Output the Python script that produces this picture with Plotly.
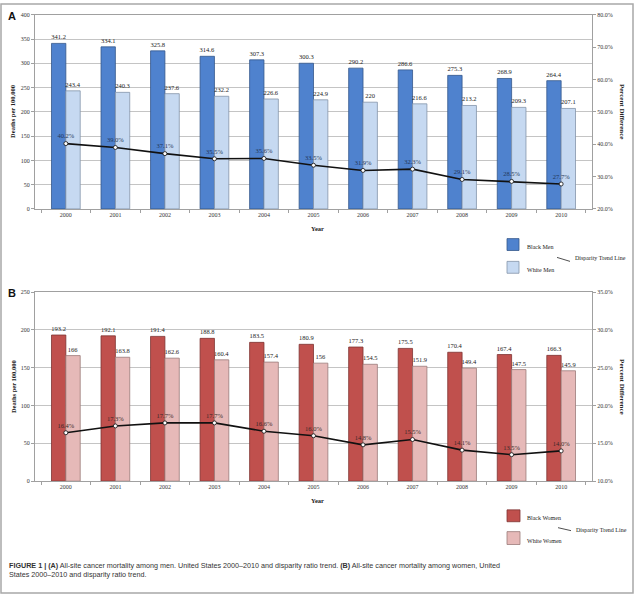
import plotly.graph_objects as go

W, H = 636, 597

years = ["2000", "2001", "2002", "2003", "2004", "2005", "2006", "2007", "2008", "2009", "2010"]

black_men = [341.2, 334.1, 325.8, 314.6, 307.3, 300.3, 290.2, 286.6, 275.3, 268.9, 264.4]
white_men = [243.4, 240.3, 237.6, 232.2, 226.6, 224.9, 220, 216.6, 213.2, 209.3, 207.1]
men_pct = [40.2, 39.0, 37.1, 35.5, 35.6, 33.5, 31.9, 32.3, 29.1, 28.5, 27.7]

black_women = [193.2, 192.1, 191.4, 188.8, 183.5, 180.9, 177.3, 175.5, 170.4, 167.4, 166.3]
white_women = [166, 163.8, 162.6, 160.4, 157.4, 156, 154.5, 151.9, 149.4, 147.5, 145.9]
women_pct = [16.4, 17.3, 17.7, 17.7, 16.6, 16.0, 14.8, 15.5, 14.1, 13.5, 14.0]

SERIF = "Liberation Serif"
SANS = "Liberation Sans"

def px_x(p):
    return p / W

def px_y(p):
    return 1 - p / H

def lbl(vals):
    return [f"{v:g}" for v in vals]

fig = go.Figure()

bar_font = dict(family=SERIF, size=6.5, color="#222222")

# Panel A
fig.add_trace(go.Bar(x=years, y=black_men, name="Black Men", marker=dict(color="#4F82CE", line=dict(color="#35588C", width=0.8)),
                     text=lbl(black_men), textposition="outside", textfont=bar_font, outsidetextfont=bar_font,
                     cliponaxis=False, constraintext="none", xaxis="x", yaxis="y", offsetgroup="a1", hoverinfo="skip"))
fig.add_trace(go.Bar(x=years, y=white_men, name="White Men", marker=dict(color="#C6D9F1", line=dict(color="#8494AA", width=0.8)),
                     text=lbl(white_men), textposition="outside", textfont=bar_font, outsidetextfont=bar_font,
                     cliponaxis=False, constraintext="none", xaxis="x", yaxis="y", offsetgroup="a2", hoverinfo="skip"))
fig.add_trace(go.Scatter(x=years, y=men_pct, mode="lines+markers+text", name="Disparity Trend Line",
                         line=dict(color="#111", width=1.6),
                         marker=dict(color="white", size=4, line=dict(color="#111", width=0.8)),
                         text=[f"{v:.1f}%" for v in men_pct], textposition="top center",
                         textfont=dict(family=SERIF, size=6.5, color="#23375A"), cliponaxis=False,
                         xaxis="x", yaxis="y2", hoverinfo="skip"))

# Panel B
fig.add_trace(go.Bar(x=years, y=black_women, name="Black Women", marker=dict(color="#C0504D", line=dict(color="#7E3432", width=0.8)),
                     text=lbl(black_women), textposition="outside", textfont=bar_font, outsidetextfont=bar_font,
                     cliponaxis=False, constraintext="none", xaxis="x3", yaxis="y3", offsetgroup="b1", hoverinfo="skip"))
fig.add_trace(go.Bar(x=years, y=white_women, name="White Women", marker=dict(color="#E6B9B8", line=dict(color="#9A7B7A", width=0.8)),
                     text=lbl(white_women), textposition="outside", textfont=bar_font, outsidetextfont=bar_font,
                     cliponaxis=False, constraintext="none", xaxis="x3", yaxis="y3", offsetgroup="b2", hoverinfo="skip"))
fig.add_trace(go.Scatter(x=years, y=women_pct, mode="lines+markers+text", name="Disparity Trend Line",
                         line=dict(color="#111", width=1.6),
                         marker=dict(color="white", size=4, line=dict(color="#111", width=0.8)),
                         text=[f"{v:.1f}%" for v in women_pct], textposition="top center",
                         textfont=dict(family=SERIF, size=6.5, color="#3A2A2A"), cliponaxis=False,
                         xaxis="x3", yaxis="y4", hoverinfo="skip"))

tickfont = dict(family=SERIF, size=6, color="#333")
xdom = [px_x(35), px_x(592)]
domA = [px_y(208), px_y(12)]
domB = [px_y(483), px_y(292)]

common_x = dict(type="category", showline=True, linecolor="#A0A0A0", linewidth=1, mirror=True,
                ticks="outside", tickson="boundaries", ticklen=3, tickcolor="#A0A0A0",
                tickfont=tickfont, showgrid=False, fixedrange=True)
common_yl = dict(showline=True, linecolor="#A0A0A0", linewidth=1, ticks="outside", ticklen=3,
                 tickcolor="#A0A0A0", tickfont=tickfont, showgrid=True, gridcolor="#C4C4C4",
                 gridwidth=1, zeroline=False, fixedrange=True)
common_yr = dict(showline=True, linecolor="#A0A0A0", linewidth=1, ticks="outside", ticklen=3,
                 tickcolor="#A0A0A0", tickfont=tickfont, showgrid=False, zeroline=False,
                 side="right", tickformat=".1f", ticksuffix="%", fixedrange=True)

fig.update_layout(
    width=W, height=H,
    margin=dict(l=0, r=0, t=0, b=0),
    paper_bgcolor="white", plot_bgcolor="white",
    showlegend=False,
    barmode="group", bargap=0.42, bargroupgap=0,
    xaxis=dict(domain=xdom, anchor="y", **common_x),
    yaxis=dict(domain=domA, anchor="x", range=[0, 400], dtick=50, **common_yl),
    yaxis2=dict(overlaying="y", anchor="x", range=[20, 80], dtick=10, **common_yr),
    xaxis3=dict(domain=xdom, anchor="y3", **common_x),
    yaxis3=dict(domain=domB, anchor="x3", range=[0, 250], dtick=50, **common_yl),
    yaxis4=dict(overlaying="y3", anchor="x3", range=[10, 35], dtick=5, **common_yr),
)

ann = []
def text(x, y, s, size=7, family=SERIF, bold=False, angle=0, xanchor="center", yanchor="middle", color="#222"):
    if bold:
        s = f"<b>{s}</b>"
    ann.append(dict(x=px_x(x), y=px_y(y), xref="paper", yref="paper", text=s, showarrow=False,
                    font=dict(family=family, size=size, color=color), textangle=angle,
                    xanchor=xanchor, yanchor=yanchor))

# Panel letters
text(12, 13, "A", size=11, family=SANS, bold=True, color="#111")
text(12, 293, "B", size=11, family=SANS, bold=True, color="#111")

# Axis titles
text(13, 110, "Deaths per 100,000", size=6.5, bold=True, angle=-90)
text(622, 110, "Percent Difference", size=7, bold=True, angle=90)
text(317, 228, "Year", size=6.5, bold=True)
text(13, 388, "Deaths per 100,000", size=6.5, bold=True, angle=-90)
text(622, 388, "Percent Difference", size=7, bold=True, angle=90)
text(317, 503, "Year", size=6.5, bold=True)

shapes = []
def box(x0, y0, x1, y1, fill, line):
    shapes.append(dict(type="rect", xref="paper", yref="paper", x0=px_x(x0), x1=px_x(x1),
                       y0=px_y(y1), y1=px_y(y0), fillcolor=fill, line=dict(color=line, width=0.8)))

def seg(x0, y0, x1, y1, color="#222", width=0.8):
    shapes.append(dict(type="line", xref="paper", yref="paper", x0=px_x(x0), x1=px_x(x1),
                       y0=px_y(y0), y1=px_y(y1), line=dict(color=color, width=width)))

# Legend A
box(507, 238, 519, 250, "#4F82CE", "#35588C")
box(507, 261, 519, 273, "#C6D9F1", "#8494AA")
text(525, 246, "Black Men", size=6, xanchor="left")
text(525, 270, "White Men", size=6, xanchor="left")
seg(557, 257, 570, 261)
text(573, 258, "Disparity Trend Line", size=6, xanchor="left")

# Legend B
box(507, 512, 520, 524, "#C0504D", "#7E3432")
box(507, 534, 520, 547, "#E6B9B8", "#9A7B7A")
text(525, 520, "Black Women", size=6, xanchor="left")
text(525, 543, "White Women", size=6, xanchor="left")
seg(558, 530, 571, 533)
text(574, 532, "Disparity Trend Line", size=6, xanchor="left")

# Caption
cap = ("<b>FIGURE 1 | (A)</b> All-site cancer mortality among men. United States 2000\u20132010 and disparity ratio trend. "
       "<b>(B)</b> All-site cancer mortality among women, United<br>States 2000\u20132010 and disparity ratio trend.")
ann.append(dict(x=px_x(7), y=px_y(562), xref="paper", yref="paper", text=cap, showarrow=False,
                align="left", xanchor="left", yanchor="top",
                font=dict(family=SANS, size=7.2, color="#333")))

# Outer frame
shapes.append(dict(type="rect", xref="paper", yref="paper", x0=px_x(1), x1=px_x(633), y0=px_y(596), y1=px_y(1),
                   line=dict(color="#A8A8A8", width=1.5), fillcolor="rgba(0,0,0,0)"))

fig.update_layout(annotations=ann, shapes=shapes)

fig.write_html("out.html", config={"displayModeBar": False, "staticPlot": True},
               post_script="document.body.style.margin='0px';document.body.style.overflow='hidden';")
